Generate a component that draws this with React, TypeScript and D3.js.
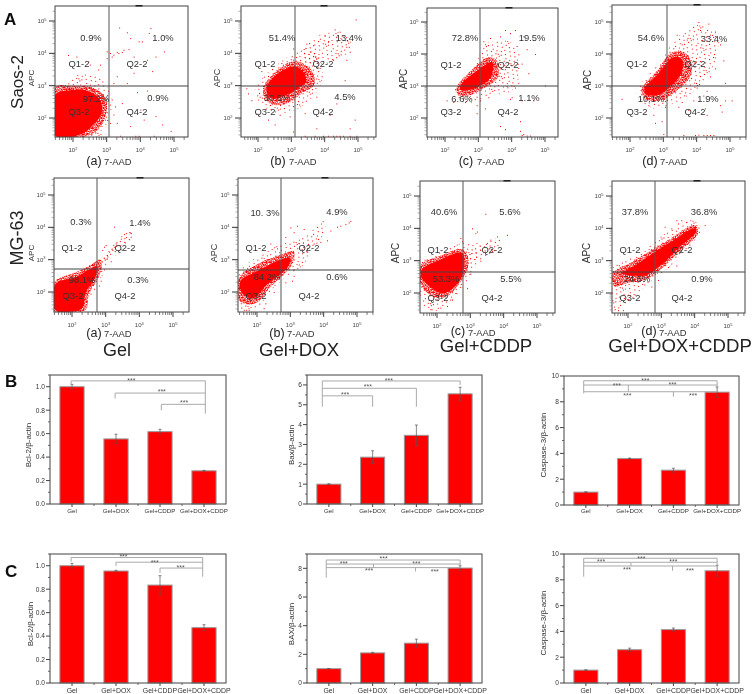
import React from "react";
import * as d3 from "d3";

type P = [number, number];
const FONT = "'Liberation Sans', Arial, sans-serif";

// ---------- flow cytometry: [log10 7-AAD, log10 APC] ----------
const saosGelCore: P[] = [[1.47,2.72],[1.9,2.86],[2.4,2.85],[2.8,2.57],[2.85,2.15],[2.6,1.79],[2.2,1.48],[1.47,1.46]];
const saosGelDense: P[][] = [[[1.47,2.95],[2.0,3.0],[2.55,2.95],[2.95,2.65],[3.0,2.2],[2.8,1.7],[2.4,1.44],[1.47,1.44]]];
const saosGelSparse: P[][] = [[[1.8,3.0],[2.2,3.35],[2.7,3.3],[3.0,3.0],[3.15,2.5],[3.05,1.9],[2.6,1.44],[2,1.6]],[[1.47,1.47],[3.1,1.47],[3.1,1.41],[1.47,1.41]]];
const saosGelEvents: P[] = [[3.37,4.8],[3.6,4.65],[4.25,4.63],[4.3,4.78],[4.05,4.37],[3.95,4.37],[3.7,4.47],[3,4.06],[3.1,4.01],[3.2,3.96],[3.35,4.01],[3.5,4.11],[3.65,4.13],[3.45,4.04],[3.3,4.04],[3.15,3.9],[3.8,3.9],[4.2,3.8],[4.7,4.06],[4.45,3.9],[4.35,3.45],[3.8,3.4],[3.6,3.08],[3.3,3.29],[3.2,3.08],[3,3.85],[2.8,3.65],[2.5,3.65],[2.1,3.9],[1.85,3.95],[2.75,3.5],[2.45,3.75],[3.15,2.57],[3.25,2.36],[3.45,2.46],[3.2,2.11],[3.3,1.85],[4.1,1.95],[4.45,2.06],[4,2.26],[3.9,2.8],[4.2,2.85],[3.7,1.75],[3.1,1.85],[3.85,1.45],[3.95,1.45],[3.4,1.45],[4.65,1.8],[4.9,1.6],[4.4,1.45]];
const saosDoxCore: P[] = [[2.25,2.92],[2.55,3.33],[3.1,3.59],[3.35,3.43],[3.45,3.12],[3.2,2.92],[2.85,2.71],[2.4,2.61]];
const saosDoxDense: P[][] = [[[2.15,2.9],[2.5,3.4],[3.05,3.75],[3.55,3.55],[3.7,3.05],[3.3,2.75],[2.85,2.45],[2.35,2.45]]];
const saosDoxSparse: P[][] = [[[1.9,2.85],[2.4,3.5],[3.1,4.0],[3.6,4.15],[3.95,3.3],[3.6,2.6],[3.0,2.2],[2.3,2.2]],[[3.3,3.8],[3.7,4.5],[4.6,4.6],[4.8,4.2],[4.2,3.7]]];
const saosDoxEvents: P[] = [[4.93,5.05],[4.3,4.74],[4,4.57],[4.55,4.41],[4.65,4.2],[4.1,4.36],[3.45,4.3],[3.65,4.25],[4.75,4.05],[4.45,4.67],[4.25,3.8],[4.6,3.17],[4.65,3.8],[3.75,2.66],[4.35,2.45],[4.75,1.68],[4.15,2.1],[3.75,1.68],[4.25,1.45],[4.55,1.45],[4.75,1.45],[4.95,1.45],[3.95,1.45],[3.4,1.45],[2.65,2.1],[2.3,1.95],[2.05,2.66],[1.65,2.92],[1.7,2.76],[1.95,2.14],[2.95,2.05],[3.05,1.58],[4.45,1.45],[4.35,1.45],[4.1,1.45],[3.7,1.45],[4.9,1.95],[3.95,2.3],[3.4,2.15],[2.5,1.8],[1.8,2.55],[2.1,3.45],[2.7,3.7],[3.05,4.15],[3.85,3.55]];
const saosCddpCore: P[] = [[2.47,2.88],[2.47,3.03],[2.85,3.39],[3.4,3.75],[3.45,3.65],[3.35,3.24],[3.1,3.03],[2.75,2.88]];
const saosCddpDense: P[][] = [[[2.35,2.95],[2.8,3.5],[3.3,3.9],[3.55,3.8],[3.6,3.3],[3.2,2.95],[2.7,2.7],[2.4,2.7]]];
const saosCddpSparse: P[][] = [[[2.3,2.7],[2.9,3.6],[3.2,4.3],[3.9,4.4],[4.3,3.8],[4.0,2.85],[3.3,2.7],[2.7,2.45]]];
const saosCddpEvents: P[] = [[4.1,4.75],[3.95,4.65],[4.35,4.55],[3.35,4.5],[3.15,4.4],[3.65,4.55],[4.15,4.25],[4.45,4.15],[4.7,4.0],[3.8,4.75],[4.3,3.7],[4.5,3.4],[4.2,3.1],[5.0,3.02],[4.1,2.95],[3.95,2.6],[3.85,3],[4.3,2.55],[4.65,2.55],[4.0,2.65],[3.3,2.65],[3.05,2.55],[3.2,2.3],[2.95,2.4],[2.6,2.5],[2.25,2.5],[2.05,2.55],[2.95,2.15],[3.65,1.75],[3.8,1.65],[4.25,1.6],[4.35,1.5],[4.3,1.47],[4.45,1.45],[4.55,1.45],[4.25,1.9],[2.4,2.8],[2.3,2.9]];
const saosBothCore: P[] = [[2.45,2.95],[2.8,3.33],[3.3,3.9],[3.55,3.85],[3.55,3.43],[3.2,2.97],[2.8,2.71],[2.45,2.76]];
const saosBothDense: P[][] = [[[2.35,2.9],[2.8,3.45],[3.25,4.05],[3.7,4.0],[3.85,3.4],[3.4,2.85],[2.9,2.55],[2.45,2.6]]];
const saosBothSparse: P[][] = [[[2.2,2.8],[2.85,3.7],[3.3,4.4],[4.0,4.9],[4.6,4.6],[4.6,3.9],[4.1,3.0],[3.4,2.5],[2.7,2.3]]];
const saosBothEvents: P[] = [[4.05,5.0],[4.35,4.95],[4.1,4.75],[4.55,4.7],[3.7,4.45],[3.55,4.3],[4.7,4.3],[4.8,3.8],[4.55,3.55],[4.4,3.3],[4.0,2.95],[4.3,2.85],[4.85,3.1],[4.2,2.7],[4.85,2.55],[5.05,2.55],[4.7,2.4],[4.3,2.1],[4.75,2.2],[3.9,2.55],[3.75,2.25],[3.55,2.5],[3.05,2.35],[2.7,2.1],[2.3,2.55],[1.75,2.6],[2.75,1.85],[2.95,1.9],[3.45,2.35],[4.05,1.48],[4.2,1.47],[4.3,1.47],[4.4,1.47],[4.5,1.47],[3.95,1.47],[3,1.5],[3.6,1.47],[2.55,2.4],[3.4,4.6],[4.25,2.3]];
const mgGelCore: P[] = [[1.5,2.23],[2.15,2.48],[2.5,2.69],[2.75,2.79],[2.7,2.48],[2.4,1.97],[2.3,1.5],[1.5,1.45]];
const mgGelDense: P[][] = [[[1.47,2.3],[2.1,2.6],[2.5,2.8],[2.85,3.0],[2.85,2.6],[2.5,1.9],[2.4,1.45],[1.47,1.42]]];
const mgGelSparse: P[][] = [[[2.4,2.8],[2.9,3.05],[3.2,3.35],[3.05,2.95],[2.9,2.5],[2.55,2.2]],[[2.95,3.0],[3.3,3.55],[3.75,3.9],[3.8,3.72],[3.25,3.1]]];
const mgGelEvents: P[] = [[3.25,4.02],[3.7,3.85],[3.75,3.82],[3.6,3.7],[3.45,3.65],[3.3,3.5],[3.2,3.3],[3.1,3.25],[2.95,3.4],[2.9,3.3],[3.05,3.1],[3.0,3.45],[2.85,2.35],[2.95,2.7],[2.8,2.2],[2.55,1.95],[2.65,2.1],[3.15,2.95],[3.4,3.3],[3.55,3.55]];
const mgDoxCore: P[] = [[1.5,2.33],[2,2.64],[2.7,3],[3,3.05],[2.9,2.74],[2.3,2.23],[1.9,1.81],[1.55,1.97]];
const mgDoxDense: P[][] = [[[1.47,2.45],[2,2.85],[2.7,3.15],[3.1,3.25],[3.05,2.85],[2.4,2.15],[1.95,1.65],[1.5,1.7]]];
const mgDoxSparse: P[][] = [[[1.47,2.6],[2.3,3.25],[2.8,3.5],[3.5,3.55],[3.45,2.9],[2.9,2.5],[2.3,1.9],[2,1.45],[1.5,1.45]],[[3.2,3.5],[3.7,3.95],[4,4.2],[4.05,3.95],[3.6,3.3]]];
const mgDoxEvents: P[] = [[4.8,4.2],[4.75,4.15],[4.5,4.05],[4.65,4.1],[4.4,4.02],[4.2,3.9],[3.0,4.0],[3.2,4.05],[3.1,3.85],[3.4,3.95],[2.85,3.7],[3.9,3.55],[4.1,3.6],[3.5,3.25],[3.7,3.5],[2.4,3.5],[2.6,3.35],[3.1,2.7],[3.1,2.5],[2.85,2.3],[3.05,2.35],[2.5,2.0],[2.25,1.65],[1.6,1.45],[1.75,1.45],[2.2,1.5]];
const mgCddpCore: P[] = [[1.53,2.71],[2.08,3.02],[2.76,3.23],[2.78,2.61],[2.58,2.25],[2.18,1.99],[1.78,2.2],[1.53,2.5]];
const mgCddpDense: P[][] = [[[1.5,2.85],[2.1,3.15],[2.75,3.35],[2.95,3.0],[2.8,2.5],[2.3,1.9],[1.85,1.9],[1.5,2.3]]];
const mgCddpSparse: P[][] = [[[1.5,2.9],[2.3,3.35],[2.75,3.55],[3.3,3.5],[3.2,2.9],[2.85,2.3],[2.4,1.7],[2,1.45],[1.6,1.6]],[[2.9,3.05],[3.3,3.45],[3.9,3.7],[3.9,3.45],[3.3,3.0]]];
const mgCddpEvents: P[] = [[3.45,4.45],[4.1,3.8],[3.05,4.0],[3.15,3.85],[3.2,3.9],[2.7,3.7],[2.75,3.6],[3.8,3.75],[3.6,3.65],[2.9,2.8],[3,2.6],[3.3,3],[1.8,1.5],[2.1,1.55],[2.3,1.6],[2.55,2],[2.9,2.15],[2.45,1.8],[3.5,3.55]];
const mgBothCore: P[] = [[1.8,2.61],[2.15,2.81],[2.75,3.23],[3.3,3.59],[4,4],[4.05,3.9],[3.5,3.38],[3,2.87],[2.55,2.56],[1.95,2.56]];
const mgBothDense: P[][] = [[[1.5,2.55],[2.1,2.95],[2.75,3.35],[3.3,3.7],[4,4.1],[4.1,3.85],[3.45,3.2],[3,2.75],[2.5,2.4],[1.95,2.3],[1.6,2.2]]];
const mgBothSparse: P[][] = [[[1.5,2.75],[2.1,3.1],[2.75,3.55],[3.2,3.9],[3.9,4.25],[4.2,4.0],[3.5,3.05],[3.0,2.6],[2.4,2.1],[2,1.7],[1.55,1.45],[1.5,2]]];
const mgBothEvents: P[] = [[3.6,4.25],[3.45,4.25],[3.5,4.15],[3.3,4.0],[3.1,4.05],[4.3,4.1],[4.05,4.1],[3.75,4.2],[3.6,3.4],[3.45,2.85],[3.2,2.8],[2.7,2.2],[2.9,2.4],[2.2,1.95],[2.0,1.8],[1.7,1.47],[1.85,1.47],[1.6,1.5]];

// ---------- flow panel texts ----------
const pctSaos = [["0.9%","1.0%","97.2%","0.9%"],["51.4%","13.4%","30.6%","4.5%"],["72.8%","19.5%","6.6%","1.1%"],["54.6%","33.4%","10.1%","1.9%"]];
const pctMg = [["0.3%","1.4%","98.1%","0.3%"],["10. 3%","4.9%","84.2%","0.6%"],["40.6%","5.6%","53.3%","5.5%"],["37.8%","36.8%","24.5%","0.9%"]];
const quadrantNames = ["Q1-2","Q2-2","Q3-2","Q4-2"];
const panelLetters = ["(a)","(b)","(c)","(d)"];
const decades = [2,3,4,5];

// ---------- bar charts ----------
const categories = ["Gel","Gel+DOX","Gel+CDDP","Gel+DOX+CDDP"];
const bclA = [1,0.555,0.617,0.283]; const bclAErr = [0.02,0.04,0.02,0.004];
const baxA = [1,2.36,3.46,5.55]; const baxAErr = [0.02,0.32,0.52,0.33];
const casA = [1,3.6,2.7,8.75]; const casAErr = [0.02,0.04,0.15,0.4];
const bclB = [1,0.955,0.835,0.472]; const bclBErr = [0.02,0.006,0.08,0.025];
const baxB = [1,2.1,2.78,8.02]; const baxBErr = [0.01,0.04,0.28,0.16];
const casB = [1,2.58,4.14,8.7]; const casBErr = [0.02,0.12,0.12,0.42];

// brackets: [position1, value1, position2, value2]; position is a bar index
const bclALinks = [[-.02,1.05,3.03,1.05],[-.02,1.05,-.02,1.02],[.98,.946,3.03,.946],[.98,.946,.98,.9],[2.03,.85,3.03,.85],[2.03,.85,2.03,.8],[3.03,1.05,3.03,.77]];
const bclAStars = [[1.35,1.065],[2.04,.966],[2.55,.87]];
const baxALinks = [[-.15,6.2,3,6.2],[3,6.2,3,6.0],[-.15,5.83,2,5.83],[2,5.83,2,4.9],[-.15,5.45,1,5.45],[1,5.45,1,4.9],[-.15,6.2,-.15,4.9]];
const baxAStars = [[1.37,6.29],[.89,5.97],[.37,5.58]];
const casALinks = [[-.05,9.63,3,9.63],[-.05,9.3,3,9.3],[-.05,8.78,3,8.78],[-.05,9.63,-.05,8.65],[.97,9.3,.97,8.78],[2,8.78,2,8.4],[3,9.63,3,8.9]];
const casAStars = [[1.36,9.74],[.71,9.35],[1.98,9.38],[.95,8.55],[2.45,8.6]];
const bclBLinks = [[-.02,1.07,2.97,1.07],[-.02,1.07,-.02,1.035],[1,1.03,2.97,1.03],[1,1.03,1,.997],[2,.98,2.97,.98],[2,.98,2,.937],[2.97,1.07,2.97,.906]];
const bclBStars = [[1.17,1.083],[1.88,1.04],[2.47,.997]];
const baxBLinks = [[-.06,8.58,3,8.58],[-.06,8.3,3,8.3],[-.06,8.05,3,8.05],[-.06,8.58,-.06,7.34],[1.02,8.3,1.02,8.05],[1.98,8.05,1.98,7.78],[3,8.58,3,8.05]];
const baxBStars = [[1.25,8.73],[.34,8.42],[2,8.42],[.92,7.9],[2.42,7.85]];
const casBLinks = [[-.05,9.67,3,9.67],[-.05,9.36,3,9.36],[-.05,9.07,3,9.07],[-.05,9.67,-.05,8.24],[1.03,9.36,1.03,9.07],[1.98,9.07,1.98,8.7],[3,9.67,3,9.07]];
const casBStars = [[1.27,9.74],[.35,9.48],[2,9.48],[.94,8.84],[2.38,8.81]];

// pixel layout of the panels
const red = "#ff0000";
const flowLayout = [
  { pct: pctSaos[0], core: saosGelCore, dense: saosGelDense, sparse: saosGelSparse, ev: saosGelEvents, l:55,r:188,t:6,b:137, x2:73,x5:174,y5:21,y2:118, vx:109,hy:86, mark:139, apc:[31,78,8], letter:[94,165], aad:[104,165], pos:[[91,38],[163,38],[79,64],[137,64],[96,99],[158,98],[79,112],[137,112]] },
  { pct: pctSaos[1], core: saosDoxCore, dense: saosDoxDense, sparse: saosDoxSparse, ev: saosDoxEvents, l:241,r:376,t:6,b:137, x2:258,x5:358,y5:21,y2:118, vx:295,hy:86, mark:324, apc:[217,78,9], letter:[278,165], aad:[289,165], pos:[[282,38],[349,38],[265,64],[323,64],[277,98],[345,97],[265,112],[323,112]] },
  { pct: pctSaos[2], core: saosCddpCore, dense: saosCddpDense, sparse: saosCddpSparse, ev: saosCddpEvents, l:427,r:558,t:8,b:137, x2:445,x5:545,y5:22,y2:118, vx:480,hy:86, mark:509, apc:[403,79,10], letter:[466,165], aad:[477,165], pos:[[465,38],[532,38],[451,65],[508,65],[462,99],[529,98],[451,112],[508,112]] },
  { pct: pctSaos[3], core: saosBothCore, dense: saosBothDense, sparse: saosBothSparse, ev: saosBothEvents, l:612,r:746,t:5,b:137, x2:630,x5:730,y5:22,y2:118, vx:667,hy:86, mark:697, apc:[587,80,10], letter:[650,165], aad:[660,165], pos:[[651,38],[714,39],[637,64],[695,64],[651,99],[708,99],[637,112],[695,112]] },
  { pct: pctMg[0], core: mgGelCore, dense: mgGelDense, sparse: mgGelSparse, ev: mgGelEvents, l:54,r:189,t:178,b:312, x2:72,x5:173,y5:195,y2:292, vx:97,hy:269, mark:140, apc:[31,253,8], letter:[94,337], aad:[104,337], pos:[[81,222],[140,223],[72,248],[125,248],[82,280],[138,280],[73,296],[125,296]] },
  { pct: pctMg[1], core: mgDoxCore, dense: mgDoxDense, sparse: mgDoxSparse, ev: mgDoxEvents, l:238,r:373,t:178,b:312, x2:257,x5:357,y5:195,y2:292, vx:281,hy:270, mark:325, apc:[214,253,9], letter:[277,337], aad:[287,337], pos:[[265,213],[337,212],[256,248],[309,248],[267,277],[337,277],[256,296],[309,296]] },
  { pct: pctMg[2], core: mgCddpCore, dense: mgCddpDense, sparse: mgCddpSparse, ev: mgCddpEvents, l:420,r:555,t:181,b:313, x2:437,x5:537,y5:196,y2:293, vx:463,hy:272, mark:507, apc:[395,253,10], letter:[458,335], aad:[468,336], pos:[[444,212],[510,212],[438,250],[492,250],[446,279],[511,279],[438,298],[492,298]] },
  { pct: pctMg[3], core: mgBothCore, dense: mgBothDense, sparse: mgBothSparse, ev: mgBothEvents, l:612,r:745,t:181,b:313, x2:628,x5:728,y5:196,y2:293, vx:655,hy:272, mark:697, apc:[586,253,10], letter:[649,335], aad:[659,336], pos:[[635,212],[704,212],[630,250],[682,250],[637,279],[702,279],[630,298],[682,298]] },
];
const barLayout = [
  { v: bclA, e: bclAErr, links: bclALinks, stars: bclAStars, l:50,r:226,t:375,b:504, top:1.1, major:.2, label:"Bcl-2/β-actin", lx:28, ly:445, fmt:".1f", cat:6.2, catY:513 },
  { v: baxA, e: baxAErr, links: baxALinks, stars: baxAStars, l:307,r:482,t:375,b:504, top:6.5, major:1, label:"Bax/β-actin", lx:291, ly:445, fmt:"d", cat:6.2, catY:513 },
  { v: casA, e: casAErr, links: casALinks, stars: casAStars, l:564,r:739,t:376,b:505, top:10, major:2, label:"Caspase-3/β-actin", lx:543, ly:445, fmt:"d", cat:6.2, catY:513 },
  { v: bclB, e: bclBErr, links: bclBLinks, stars: bclBStars, l:50,r:226,t:554,b:683, top:1.1, major:.2, label:"Bcl-2/β-actin", lx:30, ly:624, fmt:".1f", cat:6.9, catY:693 },
  { v: baxB, e: baxBErr, links: baxBLinks, stars: baxBStars, l:307,r:482,t:554,b:683, top:9, major:2, label:"BAX/β-actin", lx:291, ly:624, fmt:"d", cat:6.9, catY:693 },
  { v: casB, e: casBErr, links: casBLinks, stars: casBStars, l:564,r:739,t:554,b:683, top:10, major:2, label:"Caspase-3/β-actin", lx:543, ly:623, fmt:"d", cat:6.9, catY:693 },
];
const groupTitles = [["Gel",117,356,18],["Gel+DOX",299,356,18.6],["Gel+CDDP",486,352,18.6],["Gel+DOX+CDDP",680,352,18.6]] as const;

// irregular speckle tiles
const denseTile = [[0,0],[1,0],[3,0],[4,0],[6,0],[8,0],[0,1],[2,1],[3,1],[5,1],[7,1],[8,1],[1,2],[2,2],[4,2],[5,2],[6,2],[0,3],[3,3],[4,3],[6,3],[7,3],[1,4],[2,4],[5,4],[8,4],[0,5],[2,5],[3,5],[4,5],[6,5],[7,5],[1,6],[4,6],[5,6],[8,6],[0,7],[2,7],[3,7],[6,7],[7,7],[1,8],[3,8],[5,8],[6,8],[8,8]];
const sparseTile = [[0,0],[7,1],[12,0],[3,3],[10,4],[15,3],[6,6],[1,8],[13,7],[9,9],[4,11],[15,11],[11,13],[1,14],[7,14],[14,15]];

function FlowPanel({ p, idx }: { p: (typeof flowLayout)[number]; idx: number }) {
  const xDec = (p.x5 - p.x2) / 3, yDec = (p.y2 - p.y5) / 3;
  const x = d3.scaleLog().domain([10 ** (2 - (p.x2 - p.l) / xDec), 10 ** (5 + (p.r - p.x5) / xDec)]).range([p.l, p.r]);
  const y = d3.scaleLog().domain([10 ** (2 - (p.b - p.y2) / yDec), 10 ** (5 + (p.y5 - p.t) / yDec)]).range([p.b, p.t]);
  const area = d3.line<P>().x((d) => x(10 ** d[0])).y((d) => y(10 ** d[1])).curve(d3.curveCatmullRomClosed.alpha(0.5));
  const clip = `clip${idx}`;
  const isMajor = (t: number) => Math.abs(Math.log10(t) % 1) < 1e-6;
  const cx = p.pos;
  return (
    <g>
      <clipPath id={clip}><rect x={p.l} y={p.t} width={p.r - p.l} height={p.b - p.t} /></clipPath>
      <g clipPath={`url(#${clip})`}>
        {p.sparse.map((s, i) => <path key={i} d={area(s as P[])!} fill="url(#sparse)" />)}
        {p.dense.map((s, i) => <path key={i} d={area(s as P[])!} fill="url(#dense)" />)}
        <path d={area(p.core as P[])!} fill={red} />
        {p.ev.map((d, i) => <rect key={i} x={x(10 ** d[0])} y={y(10 ** d[1])} width={1} height={1} fill={red} />)}
      </g>
      <rect x={p.l} y={p.t} width={p.r - p.l} height={p.b - p.t} fill="none" stroke="#444" strokeWidth={1} />
      <line x1={p.vx} x2={p.vx} y1={p.t} y2={p.b} stroke="#555" strokeWidth={1} />
      <line x1={p.l} x2={p.r} y1={p.hy} y2={p.hy} stroke="#444" strokeWidth={1} />
      <rect x={p.mark - 3.5} y={p.t - 1} width={7} height={1.5} fill="#222" />
      {x.ticks().map((t) => (
        <line key={t} x1={x(t)} x2={x(t)} y1={p.b} y2={p.b + (isMajor(t) ? 5 : 3)} stroke="#444" strokeWidth={isMajor(t) ? 1 : 0.7} />
      ))}
      {y.ticks().map((t) => (
        <line key={t} x1={p.l} x2={p.l - (isMajor(t) ? 6 : 2.5)} y1={y(t)} y2={y(t)} stroke={isMajor(t) ? "#333" : "#777"} strokeWidth={isMajor(t) ? 1 : 0.6} />
      ))}
      {decades.map((k) => (
        <text key={"x" + k} x={x(10 ** k)} y={p.b + 15} fontSize={6} fill="#444" textAnchor="middle">10<tspan dy={-2.5} fontSize={4}>{k}</tspan></text>
      ))}
      {decades.map((k) => (
        <text key={"y" + k} x={p.l - 8.5} y={y(10 ** k) + 2} fontSize={6} fill="#444" textAnchor="end">10<tspan dy={-2.5} fontSize={4}>{k}</tspan></text>
      ))}
      <g fontSize={9.4} fill="#333" textAnchor="middle">
        <text x={cx[0][0]} y={cx[0][1] + 3.3}>{p.pct[0]}</text>
        <text x={cx[1][0]} y={cx[1][1] + 3.3}>{p.pct[1]}</text>
        <text x={cx[4][0]} y={cx[4][1] + 3.3}>{p.pct[2]}</text>
        <text x={cx[5][0]} y={cx[5][1] + 3.3}>{p.pct[3]}</text>
        <text x={cx[2][0]} y={cx[2][1] + 3.3}>{quadrantNames[0]}</text>
        <text x={cx[3][0]} y={cx[3][1] + 3.3}>{quadrantNames[1]}</text>
        <text x={cx[6][0]} y={cx[6][1] + 3.3}>{quadrantNames[2]}</text>
        <text x={cx[7][0]} y={cx[7][1] + 3.3}>{quadrantNames[3]}</text>
      </g>
      <text transform={`translate(${p.apc[0] + p.apc[2] * 0.35},${p.apc[1]}) rotate(-90)`} fontSize={p.apc[2]} fill="#333" textAnchor="middle">APC</text>
      <text x={p.letter[0]} y={p.letter[1]} fontSize={12.5} fill="#222" textAnchor="middle">{panelLetters[idx % 4]}</text>
      <text x={p.aad[0]} y={p.aad[1]} fontSize={9.4} fill="#333">7-AAD</text>
    </g>
  );
}

function BarPanel({ p }: { p: (typeof barLayout)[number] }) {
  const x = d3.scaleBand<string>().domain(categories).range([p.l, p.r]).paddingInner(0.45).paddingOuter(0.225);
  const y = d3.scaleLinear().domain([0, p.top]).range([p.b, p.t]);
  const pos = (i: number) => x(categories[0])! + x.bandwidth() / 2 + i * x.step();
  const majors = d3.range(0, p.top + 1e-9, p.major);
  const minors = d3.range(p.major / 2, p.top + 1e-9, p.major);
  const fmt = d3.format(p.fmt);
  return (
    <g>
      {p.v.map((v, i) => (
        <rect key={i} x={x(categories[i])} y={y(v)} width={x.bandwidth()} height={y(0) - y(v)} fill={red} stroke="#999" strokeWidth={1} />
      ))}
      {p.v.map((v, i) => {
        const c = pos(i), hi = y(v + p.e[i]), lo = y(v - p.e[i]);
        return (
          <path key={i} d={`M${c - 1.5},${hi}H${c + 1.5}M${c},${hi}V${lo}M${c - 1.5},${lo}H${c + 1.5}`} stroke="#555" strokeWidth={0.7} fill="none" />
        );
      })}
      {p.links.map((s, i) => (
        <line key={i} x1={pos(s[0])} x2={pos(s[2])} y1={y(s[1])} y2={y(s[3])} stroke="#aaa" strokeWidth={1} />
      ))}
      {p.stars.map((s, i) => (
        <text key={i} x={pos(s[0])} y={y(s[1]) + 3.5} fontSize={7} fill="#555" textAnchor="middle">***</text>
      ))}
      <rect x={p.l} y={p.t} width={p.r - p.l} height={p.b - p.t} fill="none" stroke="#444" strokeWidth={1} />
      {majors.map((t) => (
        <g key={t}>
          <line x1={p.l} x2={p.l - 4} y1={y(t)} y2={y(t)} stroke="#444" />
          <text x={p.l - 5} y={y(t) + 2.4} fontSize={6.6} fill="#333" textAnchor="end">{fmt(t)}</text>
        </g>
      ))}
      {minors.map((t) => <line key={t} x1={p.l} x2={p.l - 2} y1={y(t)} y2={y(t)} stroke="#444" strokeWidth={0.8} />)}
      {categories.map((c, i) => (
        <g key={c}>
          <line x1={pos(i)} x2={pos(i)} y1={p.b} y2={p.b + 3} stroke="#444" />
          {i < 3 && <line x1={pos(i + 0.5)} x2={pos(i + 0.5)} y1={p.b} y2={p.b + 2} stroke="#444" strokeWidth={0.8} />}
          <text x={pos(i)} y={p.catY} fontSize={p.cat} fill="#333" textAnchor="middle">{c}</text>
        </g>
      ))}
      <text transform={`translate(${p.lx + 3},${p.ly}) rotate(-90)`} fontSize={8} fill="#333" textAnchor="middle">{p.label}</text>
    </g>
  );
}

export default function App() {
  return (
    <svg width={753} height={694} viewBox="0 0 753 694" style={{ position: "absolute", left: 0, top: 0, background: "#fff", fontFamily: FONT }}>
      <defs>
        <pattern id="dense" width={9} height={9} patternUnits="userSpaceOnUse" patternTransform="rotate(23)">
          {denseTile.map((d, i) => <rect key={i} x={d[0]} y={d[1]} width={1} height={1} fill={red} />)}
        </pattern>
        <pattern id="sparse" width={16} height={16} patternUnits="userSpaceOnUse" patternTransform="rotate(37)">
          {sparseTile.map((d, i) => <rect key={i} x={d[0]} y={d[1]} width={1} height={1} fill={red} />)}
        </pattern>
        <filter id="soft" x="0" y="0" width="100%" height="100%"><feGaussianBlur stdDeviation={0.3} /></filter>
      </defs>
      <rect width={753} height={694} fill="#fff" />
      <g filter="url(#soft)">
        {flowLayout.map((p, i) => <FlowPanel key={i} p={p} idx={i} />)}
        {barLayout.map((p, i) => <BarPanel key={i} p={p} />)}
        <text transform="translate(23,82) rotate(-90)" fontSize={17} fill="#222" textAnchor="middle">Saos-2</text>
        <text transform="translate(23,238) rotate(-90)" fontSize={18} fill="#222" textAnchor="middle">MG-63</text>
        <text x={4} y={25} fontSize={17} fontWeight="bold" fill="#111">A</text>
        <text x={5} y={387} fontSize={17} fontWeight="bold" fill="#111">B</text>
        <text x={5} y={577} fontSize={17} fontWeight="bold" fill="#111">C</text>
        {groupTitles.map((g) => <text key={g[0]} x={g[1]} y={g[2]} fontSize={g[3]} fill="#222" textAnchor="middle">{g[0]}</text>)}
      </g>
    </svg>
  );
}
